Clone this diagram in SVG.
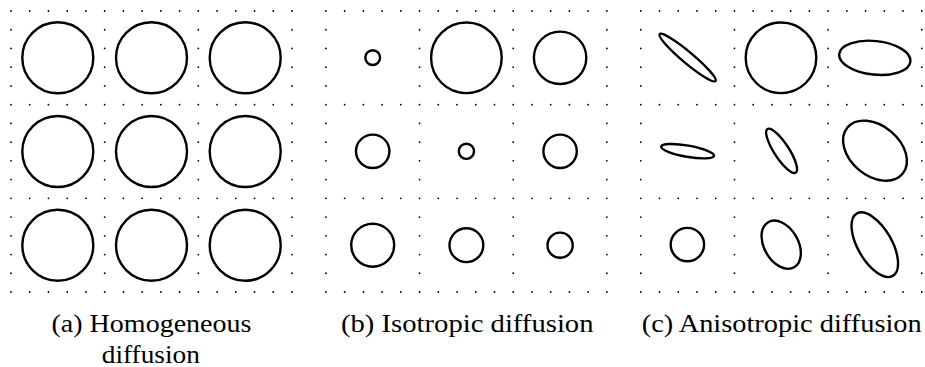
<svg xmlns="http://www.w3.org/2000/svg" width="925" height="367" viewBox="0 0 925 367">
<style>
.g{fill:none;stroke:#000;stroke-width:1.8;stroke-linecap:round;stroke-dasharray:0 18.7333}
.s{fill:none;stroke:#000;stroke-width:2.4}
.t{font-size:24.5px;fill:#000}
</style>
<defs>
<g id="grid">
<path class="g" d="M0 0H281.1M0 93.667H281.1M0 187.333H281.1M0 281H281.1M0 0V281.1M93.667 0V281.1M187.333 0V281.1M281 0V281.1"/>
</g>
</defs>
<g id="grids">
<use href="#grid" x="11" y="11"/>
<use href="#grid" x="325.9" y="11"/>
<use href="#grid" x="640.8" y="11"/>
</g>
<g id="panel-a">
<g id="a00"><circle class="s" cx="57.8" cy="57.8" r="35.5"/></g>
<g id="a01"><circle class="s" cx="151.5" cy="57.8" r="35.5"/></g>
<g id="a02"><circle class="s" cx="245.2" cy="57.8" r="35.5"/></g>
<g id="a10"><circle class="s" cx="57.8" cy="151.5" r="35.5"/></g>
<g id="a11"><circle class="s" cx="151.5" cy="151.5" r="35.5"/></g>
<g id="a12"><circle class="s" cx="245.2" cy="151.5" r="35.5"/></g>
<g id="a20"><circle class="s" cx="57.8" cy="245.2" r="35.5"/></g>
<g id="a21"><circle class="s" cx="151.5" cy="245.2" r="35.5"/></g>
<g id="a22"><circle class="s" cx="245.2" cy="245.2" r="35.5"/></g>
</g>
<g id="panel-b">
<g id="b00"><circle class="s" cx="372.7" cy="57.6" r="7.4"/></g>
<g id="b01"><circle class="s" cx="466.4" cy="57.8" r="35.3"/></g>
<g id="b02"><circle class="s" cx="560.1" cy="57.8" r="26.2"/></g>
<g id="b10"><circle class="s" cx="372.7" cy="151.3" r="16.7"/></g>
<g id="b11"><circle class="s" cx="466.4" cy="151.3" r="7.6"/></g>
<g id="b12"><circle class="s" cx="560.1" cy="151.3" r="16.7"/></g>
<g id="b20"><circle class="s" cx="372.7" cy="245.2" r="21.5"/></g>
<g id="b21"><circle class="s" cx="466.4" cy="245.2" r="16.9"/></g>
<g id="b22"><circle class="s" cx="560.1" cy="245.2" r="12.6"/></g>
</g>
<g id="panel-c">
<g id="c00"><ellipse class="s" cx="687.6" cy="57.6" rx="36.5" ry="5.6" transform="rotate(40 687.6 57.6)"/></g>
<g id="c01"><circle class="s" cx="781" cy="57.8" r="35.3"/></g>
<g id="c02"><ellipse class="s" cx="874.8" cy="57.8" rx="35.8" ry="16.8" transform="rotate(6 874.8 57.8)"/></g>
<g id="c10"><ellipse class="s" cx="687.6" cy="151.2" rx="26.8" ry="5.6" transform="rotate(10 687.6 151.2)"/></g>
<g id="c11"><ellipse class="s" cx="781.6" cy="150.8" rx="26" ry="7.4" transform="rotate(57 781.6 150.8)"/></g>
<g id="c12"><ellipse class="s" cx="875" cy="150.7" rx="36" ry="25" transform="rotate(40 875 150.7)"/></g>
<g id="c20"><circle class="s" cx="687.4" cy="244.6" r="16.7"/></g>
<g id="c21"><ellipse class="s" cx="781.2" cy="244.7" rx="26" ry="17" transform="rotate(60 781.2 244.7)"/></g>
<g id="c22"><ellipse class="s" cx="874.8" cy="244.7" rx="36" ry="17" transform="rotate(60 874.8 244.7)"/></g>
</g>
<g id="captions" font-family="'Liberation Serif', 'DejaVu Serif', serif">
<text class="t" x="51.5" y="331.7" textLength="200" lengthAdjust="spacingAndGlyphs">(a) Homogeneous</text>
<text class="t" x="101.8" y="363.3" textLength="98" lengthAdjust="spacingAndGlyphs">diffusion</text>
<text class="t" x="341" y="331.7" textLength="252.5" lengthAdjust="spacingAndGlyphs">(b) Isotropic diffusion</text>
<text class="t" x="641.7" y="331.7" textLength="280" lengthAdjust="spacingAndGlyphs">(c) Anisotropic diffusion</text>
</g>
</svg>
